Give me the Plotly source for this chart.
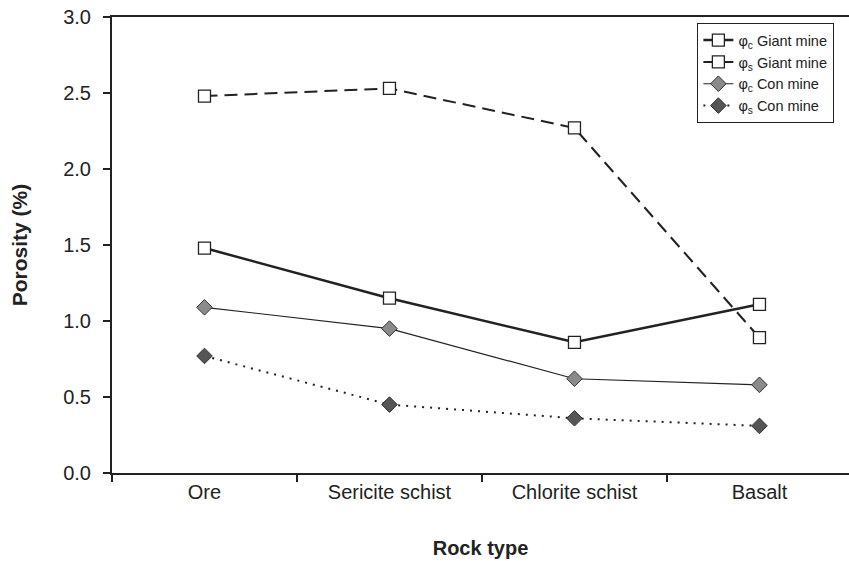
import plotly.graph_objects as go

rock_types = ["Ore", "Sericite schist", "Chlorite schist", "Basalt"]
giant_phi_c = [1.48, 1.15, 0.86, 1.11]
giant_phi_s = [2.48, 2.53, 2.27, 0.89]
con_phi_c = [1.09, 0.95, 0.62, 0.58]
con_phi_s = [0.77, 0.45, 0.36, 0.31]

fig = go.Figure()
fig.add_trace(go.Scatter(
    x=rock_types, y=giant_phi_c, mode="lines+markers",
    name="φ<sub>c</sub> Giant mine",
    line=dict(color="#222", width=2.5, dash="solid"),
    marker=dict(symbol="square", size=12, color="white", line=dict(color="#222", width=1.3)),
))
fig.add_trace(go.Scatter(
    x=rock_types, y=giant_phi_s, mode="lines+markers",
    name="φ<sub>s</sub> Giant mine",
    line=dict(color="#222", width=2, dash="13px,7px"),
    marker=dict(symbol="square", size=12, color="white", line=dict(color="#222", width=1.3)),
))
fig.add_trace(go.Scatter(
    x=rock_types, y=con_phi_c, mode="lines+markers",
    name="φ<sub>c</sub> Con mine",
    line=dict(color="#222", width=1.2),
    marker=dict(symbol="diamond", size=12, color="#8a8a8a", line=dict(color="#333", width=1)),
))
fig.add_trace(go.Scatter(
    x=rock_types, y=con_phi_s, mode="lines+markers",
    name="φ<sub>s</sub> Con mine",
    line=dict(color="#222", width=2, dash="2px,6px"),
    marker=dict(symbol="diamond", size=12, color="#555", line=dict(color="#333", width=1)),
))

font = "Liberation Sans, Arial, sans-serif"
fig.update_layout(
    width=849, height=561,
    margin=dict(l=112, r=0, t=17, b=88),
    paper_bgcolor="white", plot_bgcolor="white",
    font=dict(family=font, color="#222", size=20),
    showlegend=True,
    legend=dict(
        x=0.794, y=0.987, xanchor="left", yanchor="top",
        bordercolor="#222", borderwidth=1.2, bgcolor="white",
        font=dict(size=14.5, family=font), tracegroupgap=0,
        itemwidth=30,
    ),
    xaxis=dict(
        type="category", categoryorder="array", categoryarray=rock_types,
        range=[-0.5, 3.484], tickson="boundaries", automargin=False,
        showline=True, linecolor="#222", linewidth=2, mirror=True,
        ticks="outside", ticklen=7, tickwidth=2, tickcolor="#222",
        showgrid=False, zeroline=False,
        tickfont=dict(size=20, family=font),
        title=dict(text="<b>Rock type</b>", font=dict(size=20, family=font), standoff=39),
    ),
    yaxis=dict(
        range=[0, 3.0], dtick=0.5, tickformat=".1f", automargin=False,
        showline=True, linecolor="#222", linewidth=2,
        ticks="outside", ticklen=7, tickwidth=2, tickcolor="#222",
        ticklabelstandoff=8,
        showgrid=False, zeroline=False,
        tickfont=dict(size=20, family=font),
        title=dict(text="<b>Porosity (%)</b>", font=dict(size=21, family=font), standoff=30),
    ),
)

fig.write_html("out.html", config={"displayModeBar": False},
               post_script="document.body.style.margin='0';")
